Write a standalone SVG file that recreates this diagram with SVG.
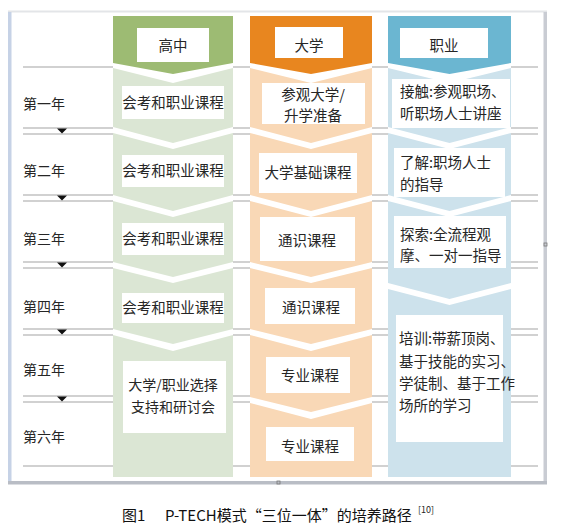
<svg xmlns="http://www.w3.org/2000/svg" width="561" height="529" viewBox="0 0 561 529">
<style>
text{font-family:"Noto Sans CJK SC","Noto Sans",sans-serif;fill:#262626;font-size:14.5px}
.c{text-anchor:middle}
.yr{font-size:14px}
.box{fill:#ffffff}
.g1{fill:#9dbb73}.g2{fill:#dbe6d4}
.o1{fill:#e8861f}.o2{fill:#f9d8b6}
.b1{fill:#6bb6d1}.b2{fill:#cde2ec}
.rl{stroke:#a3a3a3;stroke-width:1.2;fill:none}
.tri{fill:#111}
.cap{font-size:15px;font-weight:400;fill:#111}
</style>
<rect x="0" y="0" width="561" height="529" fill="#ffffff"/>
<!-- frame -->
<g id="frame">
<rect x="8" y="11" width="539" height="473" fill="#ffffff"/>
<line x1="8" y1="11.5" x2="547" y2="11.5" stroke="#e3e5e8" stroke-width="2"/>
<rect x="8" y="12" width="3.5" height="472" fill="#c6d2e6"/>
<rect x="543.5" y="12" width="3.5" height="472" fill="#c9ccd3"/>
<rect x="8" y="481" width="539" height="3.5" fill="#b9bdc5"/>
<rect x="544" y="243" width="3" height="3" fill="none" stroke="#777" stroke-width="0.8"/>
<rect x="277" y="481" width="3" height="3" fill="none" stroke="#777" stroke-width="0.8"/>
</g>
<!-- row lines -->
<g id="rows">
<path class="rl" d="M23,67H538M23,128H538M23,134H538M23,195H538M23,201H538M23,262H538M23,268H538M23,329H538M23,335H538M23,396H538M23,402H538M23,466H538"/>
<rect x="113" y="14" width="120" height="465" fill="#ffffff"/>
<rect x="250" y="14" width="122" height="465" fill="#ffffff"/>
<rect x="388" y="14" width="123" height="465" fill="#ffffff"/>
<polygon class="tri" points="57,128.5 67,128.5 62,133.5"/>
<polygon class="tri" points="57,195.5 67,195.5 62,200.5"/>
<polygon class="tri" points="57,262.5 67,262.5 62,267.5"/>
<polygon class="tri" points="57,329.5 67,329.5 62,334.5"/>
<polygon class="tri" points="57,396.5 67,396.5 62,401.5"/>
<text class="yr" x="23" y="109">第一年</text>
<text class="yr" x="23" y="176">第二年</text>
<text class="yr" x="23" y="244">第三年</text>
<text class="yr" x="23" y="312">第四年</text>
<text class="yr" x="23" y="375">第五年</text>
<text class="yr" x="23" y="442">第六年</text>
</g>
<!-- 高中 column -->
<g id="hs-head">
<path class="g1" d="M113,16H233V63L173,74L113,63Z"/>
<rect class="box" x="137" y="28" width="72" height="34"/>
<text class="c" x="173" y="51">高中</text>
</g>
<g id="hs-1">
<path class="g2" d="M113,68L173,83L233,68V127L173,143L113,127Z"/>
<rect class="box" x="122" y="86" width="102" height="33"/>
<text class="c" x="173" y="108">会考和职业课程</text>
</g>
<g id="hs-2">
<path class="g2" d="M113,133L173,149L233,133V195L173,211L113,195Z"/>
<rect class="box" x="122" y="155" width="102" height="32"/>
<text class="c" x="173" y="176">会考和职业课程</text>
</g>
<g id="hs-3">
<path class="g2" d="M113,201L173,217L233,201V262L173,277L113,262Z"/>
<rect class="box" x="122" y="223" width="102" height="32"/>
<text class="c" x="173" y="244">会考和职业课程</text>
</g>
<g id="hs-4">
<path class="g2" d="M113,268L173,283L233,268V329L173,344L113,329Z"/>
<rect class="box" x="122" y="293" width="102" height="30"/>
<text class="c" x="173" y="313">会考和职业课程</text>
</g>
<g id="hs-5">
<path class="g2" d="M113,335L173,351L233,335V477H113Z"/>
<rect class="box" x="123" y="361" width="103" height="72"/>
<text class="c" x="173" y="390" style="font-size:14px">大学/职业选择</text>
<text class="c" x="173" y="412" style="font-size:14px">支持和研讨会</text>
</g>
<!-- 大学 column -->
<g id="uni-head">
<path class="o1" d="M250,16H372V63L311,74L250,63Z"/>
<rect class="box" x="275" y="27" width="68" height="31"/>
<text class="c" x="309" y="51">大学</text>
</g>
<g id="uni-1">
<path class="o2" d="M250,68L311,83L372,68V127L311,143L250,127Z"/>
<rect class="box" x="262" y="83" width="103" height="41"/>
<text class="c" x="313" y="100">参观大学/</text>
<text class="c" x="313" y="121">升学准备</text>
</g>
<g id="uni-2">
<path class="o2" d="M250,133L311,149L372,133V195L311,211L250,195Z"/>
<rect class="box" x="259" y="153" width="98" height="40"/>
<text class="c" x="308" y="178">大学基础课程</text>
</g>
<g id="uni-3">
<path class="o2" d="M250,201L311,217L372,201V262L311,277L250,262Z"/>
<rect class="box" x="260" y="217" width="95" height="44"/>
<text class="c" x="307" y="246">通识课程</text>
</g>
<g id="uni-4">
<path class="o2" d="M250,268L311,283L372,268V329L311,344L250,329Z"/>
<rect class="box" x="265" y="288" width="90" height="36"/>
<text class="c" x="311" y="313">通识课程</text>
</g>
<g id="uni-5">
<path class="o2" d="M250,335L311,351L372,335V397L311,412L250,397Z"/>
<rect class="box" x="266" y="357" width="84" height="36"/>
<text class="c" x="310" y="381">专业课程</text>
</g>
<g id="uni-6">
<path class="o2" d="M250,403L311,419L372,403V477H250Z"/>
<rect class="box" x="266" y="427" width="88" height="34"/>
<text class="c" x="310" y="452">专业课程</text>
</g>
<!-- 职业 column -->
<g id="job-head">
<path class="b1" d="M388,16H511V63L449.5,74L388,63Z"/>
<rect class="box" x="400" y="28" width="88" height="30"/>
<text class="c" x="444" y="51">职业</text>
</g>
<g id="job-1">
<path class="b2" d="M388,68L449.5,83L511,68V127L449.5,143L388,127Z"/>
<rect class="box" x="392" y="79" width="118" height="49"/>
<text x="400" y="97">接触:参观职场、</text>
<text x="400" y="119">听职场人士讲座</text>
</g>
<g id="job-2">
<path class="b2" d="M388,133L449.5,149L511,133V195L449.5,211L388,195Z"/>
<rect class="box" x="394" y="148" width="111" height="49"/>
<text x="400" y="168">了解:职场人士</text>
<text x="400" y="190">的指导</text>
</g>
<g id="job-3">
<path class="b2" d="M388,201L449.5,217L511,201V283L449.5,299L388,283Z"/>
<rect class="box" x="394" y="216" width="112" height="52"/>
<text x="400" y="240">探索:全流程观</text>
<text x="400" y="261">摩、一对一指导</text>
</g>
<g id="job-4">
<path class="b2" d="M388,289L449.5,305L511,289V477H388Z"/>
<rect class="box" x="396" y="315" width="107" height="127"/>
<text x="399" y="344">培训:带薪顶岗、</text>
<text x="399" y="367">基于技能的实习、</text>
<text x="399" y="389">学徒制、基于工作</text>
<text x="399" y="411">场所的学习</text>
</g>
<!-- caption -->
<g id="caption">
<text class="cap" x="122" y="521">图1</text>
<text class="cap" x="165" y="521">P-TECH模式“三位一体”的培养路径</text>
<text x="418" y="513" style="font-size:9px">[10]</text>
</g>
</svg>
